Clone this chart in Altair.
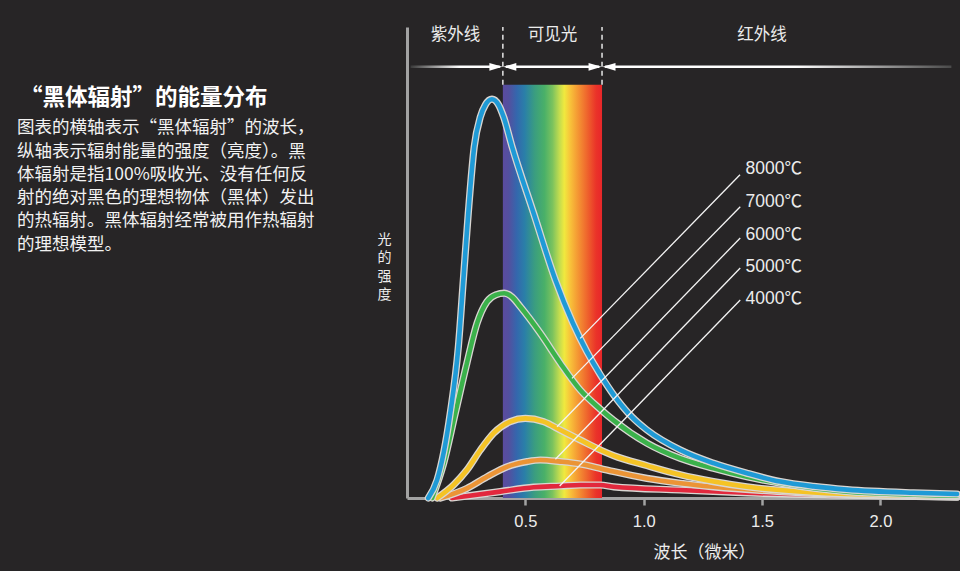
import altair as alt
import pandas as pd

BG = "#272526"
CJK = "Noto Sans CJK SC"
NUM = "Liberation Sans, Noto Sans CJK SC"
TXT = "#ececec"
AXIS = "#a3a3a3"

# ---------------- data ----------------
series_names = ["8000℃", "7000℃", "6000℃", "5000℃", "4000℃"]
series_colors = ["#1f9ad6", "#3bb24b", "#f5c325", "#eb9436", "#e2283d"]

# wavelength (micrometre) / relative brightness
wl_8000 = [0.090, 0.127, 0.183, 0.217, 0.238, 0.259, 0.284, 0.310, 0.331, 0.359, 0.387, 0.408,
           0.444, 0.535, 0.627, 0.700, 0.760, 0.817, 0.873, 0.950, 1.014, 1.155, 1.295, 1.436,
           1.577, 1.718, 1.859, 2.140, 2.324]
in_8000 = [0.0, 4.5, 21.3, 37.8, 54.5, 71.3, 87.8, 95.3, 98.3, 99.7, 98.3, 95.3,
           87.8, 71.2, 54.5, 43.8, 36.6, 30.8, 25.8, 20.3, 17.0, 12.0, 8.7, 6.2,
           4.1, 2.9, 2.1, 1.3, 1.0]

wl_7000 = [0.106, 0.155, 0.204, 0.253, 0.296, 0.338, 0.375, 0.411, 0.445, 0.479, 0.563, 0.648,
           0.732, 0.817, 0.873, 1.014, 1.155, 1.295, 1.436, 1.577, 1.859, 2.324]
in_7000 = [0.0, 8.7, 21.2, 33.7, 43.7, 49.1, 50.8, 51.2, 50.2, 47.8, 41.2, 33.7,
           27.0, 22.2, 19.4, 13.7, 9.9, 7.4, 5.3, 3.7, 1.6, 0.6]

wl_6000 = [0.127, 0.197, 0.253, 0.310, 0.366, 0.436, 0.500, 0.577, 0.648, 0.732, 0.817, 0.873,
           1.014, 1.155, 1.295, 1.436, 1.718, 2.324]
in_6000 = [0.0, 3.3, 7.0, 12.0, 16.2, 19.1, 19.9, 19.1, 17.0, 14.5, 12.0, 10.6,
           8.1, 5.8, 4.1, 2.8, 1.4, 0.4]

wl_5000 = [0.141, 0.253, 0.338, 0.422, 0.507, 0.563, 0.648, 0.732, 0.817, 0.873, 1.014, 1.155,
           1.295, 1.577, 2.324]
in_5000 = [0.0, 2.4, 5.3, 7.8, 9.1, 9.5, 9.1, 8.5, 7.4, 6.6, 4.9, 3.7,
           2.8, 1.6, 0.3]

wl_4000 = [0.190, 0.394, 0.535, 0.648, 0.732, 0.817, 0.873, 1.155, 1.436, 1.859, 2.324]
in_4000 = [0.0, 1.6, 2.7, 3.0, 3.25, 3.25, 2.8, 2.0, 1.3, 0.7, 0.2]

curve_wl = [wl_8000, wl_7000, wl_6000, wl_5000, wl_4000]
curve_in = [in_8000, in_7000, in_6000, in_5000, in_4000]

# leader lines: point on curve -> label
lead_x0 = [0.732, 0.697, 0.634, 0.627, 0.645]
lead_y0 = [39.9, 29.9, 17.8, 9.7, 3.0]
lead_x1 = [1.407, 1.408, 1.408, 1.408, 1.408]
lead_y1 = [80.8, 72.8, 65.0, 57.5, 49.5]
label_x = [1.43, 1.43, 1.43, 1.43, 1.43]
label_y = [82.3, 74.0, 65.8, 57.8, 49.8]

# spectral regions
region_names = ["紫外线", "可见光", "红外线"]
region_label_x = [0.205, 0.615, 1.50]
visible_band = [0.405, 0.824]
band_top = 103.3
top_level = 117.75
arrow_level = 107.8
region_label_level = 115.8
arrow_left = [0.015, 0.392]
arrow_mid = [0.418, 0.812]
arrow_right = [0.837, 2.300]

x_ticks = [0.5, 1.0, 1.5, 2.0]

y_title_chars = ["光", "的", "强", "度"]
title_text = "“黑体辐射”的能量分布"
body_lines = [
    "图表的横轴表示“黑体辐射”的波长，",
    "纵轴表示辐射能量的强度（亮度）。黑",
    "体辐射是指100%吸收光、没有任何反",
    "射的绝对黑色的理想物体（黑体）发出",
    "的热辐射。黑体辐射经常被用作热辐射",
    "的理想模型。",
]

# ---------------- scales ----------------
xs = alt.Scale(domain=[0, 2.328], nice=False, zero=False)
ys = alt.Scale(domain=[0, 117.75], nice=False, zero=False)

x_axis = alt.Axis(values=x_ticks, format=".1f", grid=False, domainColor=AXIS, domainWidth=3,
                  tickColor=AXIS, tickWidth=2.5, tickSize=7, labelColor=TXT, labelFont=NUM,
                  labelFontSize=16.5, labelPadding=8, title="波长（微米）", titleFont=CJK,
                  titleFontSize=17, titleFontWeight="normal", titleColor=TXT,
                  titleX=297, titleY=54, titleAlign="center", titleBaseline="middle")
y_axis = alt.Axis(grid=False, ticks=False, labels=False, domainColor=AXIS, domainWidth=3,
                  title=y_title_chars, titleAngle=0, titleFont=CJK, titleFontSize=14,
                  titleFontWeight="normal", titleColor=TXT, titleLineHeight=18.5,
                  titleX=-23, titleY=205, titleAlign="center", titleBaseline="top")

one = pd.DataFrame({"k": [0]})

# spectrum band
band_df = pd.DataFrame({"x0": [visible_band[0]], "x1": [visible_band[1]], "y0": [0], "y1": [band_top]})
stops = [(0.00, "#5b4b9f"), (0.06, "#53509f"), (0.14, "#3467ad"), (0.22, "#2a7fa8"),
         (0.32, "#3a9d80"), (0.42, "#4ab068"), (0.50, "#7ac25e"), (0.57, "#c2dc4f"),
         (0.62, "#f0e93e"), (0.68, "#f8c23a"), (0.76, "#f49533"), (0.86, "#ee5f2c"),
         (0.94, "#ea3329"), (1.00, "#e8262a")]
band = alt.Chart(band_df).mark_rect(
    color=alt.LinearGradient(gradient="linear", x1=0, x2=1, y1=0, y2=0,
                             stops=[alt.GradientStop(offset=o, color=c) for o, c in stops])
).encode(x=alt.X("x0:Q", scale=xs, axis=x_axis), x2="x1", y=alt.Y("y0:Q", scale=ys, axis=y_axis), y2="y1")

# dashed separators
dash_df = pd.DataFrame({"x": visible_band, "y0": [band_top] * 2, "y1": [top_level] * 2})
dashes = alt.Chart(dash_df).mark_rule(color="#e6e6e6", strokeWidth=1.5, strokeDash=[5, 4]).encode(
    x=alt.X("x:Q", scale=xs), y=alt.Y("y0:Q", scale=ys), y2="y1")

# arrows
def arrow_rect(rng, stops_):
    df = pd.DataFrame({"x0": [rng[0]], "x1": [rng[1]], "y0": [arrow_level - 0.32], "y1": [arrow_level + 0.32]})
    return alt.Chart(df).mark_rect(
        color=alt.LinearGradient(gradient="linear", x1=0, x2=1, y1=0, y2=0,
                                 stops=[alt.GradientStop(offset=o, color=c) for o, c in stops_])
    ).encode(x=alt.X("x0:Q", scale=xs), x2="x1", y=alt.Y("y0:Q", scale=ys), y2="y1")

arr_l = arrow_rect(arrow_left, [(0, "#3a3a3a"), (0.55, "#ffffff"), (1, "#ffffff")])
arr_m = arrow_rect(arrow_mid, [(0, "#ffffff"), (1, "#ffffff")])
arr_r = arrow_rect(arrow_right, [(0, "#ffffff"), (0.55, "#ffffff"), (1, "#4a4a4a")])

head_r_df = pd.DataFrame({"x": [0.403, 0.822], "y": [arrow_level] * 2})
head_l_df = pd.DataFrame({"x": [0.407, 0.826], "y": [arrow_level] * 2})
heads_r = alt.Chart(head_r_df).mark_point(shape="M0,0L-2,-0.6L-2,0.6Z", size=169, filled=True,
                                          color="#ffffff", opacity=1).encode(
    x=alt.X("x:Q", scale=xs), y=alt.Y("y:Q", scale=ys))
heads_l = alt.Chart(head_l_df).mark_point(shape="M0,0L2,-0.6L2,0.6Z", size=169, filled=True,
                                          color="#ffffff", opacity=1).encode(
    x=alt.X("x:Q", scale=xs), y=alt.Y("y:Q", scale=ys))

region_df = pd.DataFrame({"name": region_names, "x": region_label_x, "y": [region_label_level] * 3})
regions = alt.Chart(region_df).mark_text(font=CJK, fontSize=16.5, color=TXT, baseline="middle",
                                         align="center").encode(
    x=alt.X("x:Q", scale=xs), y=alt.Y("y:Q", scale=ys), text="name:N")

# curves
curve_layers = []
for i in reversed(range(len(series_names))):
    df = pd.DataFrame({"wl": curve_wl[i], "v": curve_in[i]})
    base = alt.Chart(df).encode(x=alt.X("wl:Q", scale=xs), y=alt.Y("v:Q", scale=ys))
    curve_layers.append(base.mark_line(color="#d9d6d2", strokeWidth=7.2, interpolate="monotone",
                                       strokeCap="round", strokeJoin="round"))
    curve_layers.append(base.mark_line(color=series_colors[i], strokeWidth=4.6, interpolate="monotone",
                                       strokeCap="round", strokeJoin="round"))

lead_df = pd.DataFrame({"x0": lead_x0, "y0": lead_y0, "x1": lead_x1, "y1": lead_y1})
leaders = alt.Chart(lead_df).mark_rule(color="#f4f4f4", strokeWidth=1.3).encode(
    x=alt.X("x0:Q", scale=xs), y=alt.Y("y0:Q", scale=ys), x2="x1", y2="y1")

lab_df = pd.DataFrame({"name": series_names, "x": label_x, "y": label_y})
labels = alt.Chart(lab_df).mark_text(font=NUM, fontSize=17.5, color=TXT, align="left",
                                     baseline="middle").encode(
    x=alt.X("x:Q", scale=xs), y=alt.Y("y:Q", scale=ys), text="name:N")

title_mark = alt.Chart(one).mark_text(font=CJK, fontSize=22.5, fontWeight="bold", color="#ffffff",
                                      align="left", baseline="middle").encode(
    x=alt.value(-387), y=alt.value(70.5), text=alt.value(title_text))
body_mark = alt.Chart(one).mark_text(font=CJK, fontSize=17.5, color="#f2f2f2", align="left",
                                     baseline="middle", lineHeight=23.3).encode(
    x=alt.value(-390), y=alt.value(101.3), text=alt.value(body_lines))

chart = alt.layer(
    band, dashes, arr_l, arr_m, arr_r, heads_r, heads_l, regions,
    *curve_layers, leaders, labels, title_mark, body_mark
).properties(
    width=551, height=471,
    autosize=alt.AutoSizeParams(type="none"),
    padding={"left": 407, "top": 27, "right": 2, "bottom": 73},
    background=BG,
).configure_view(stroke=None)

chart.save("out.html", embed_options={"renderer": "svg", "actions": False})
